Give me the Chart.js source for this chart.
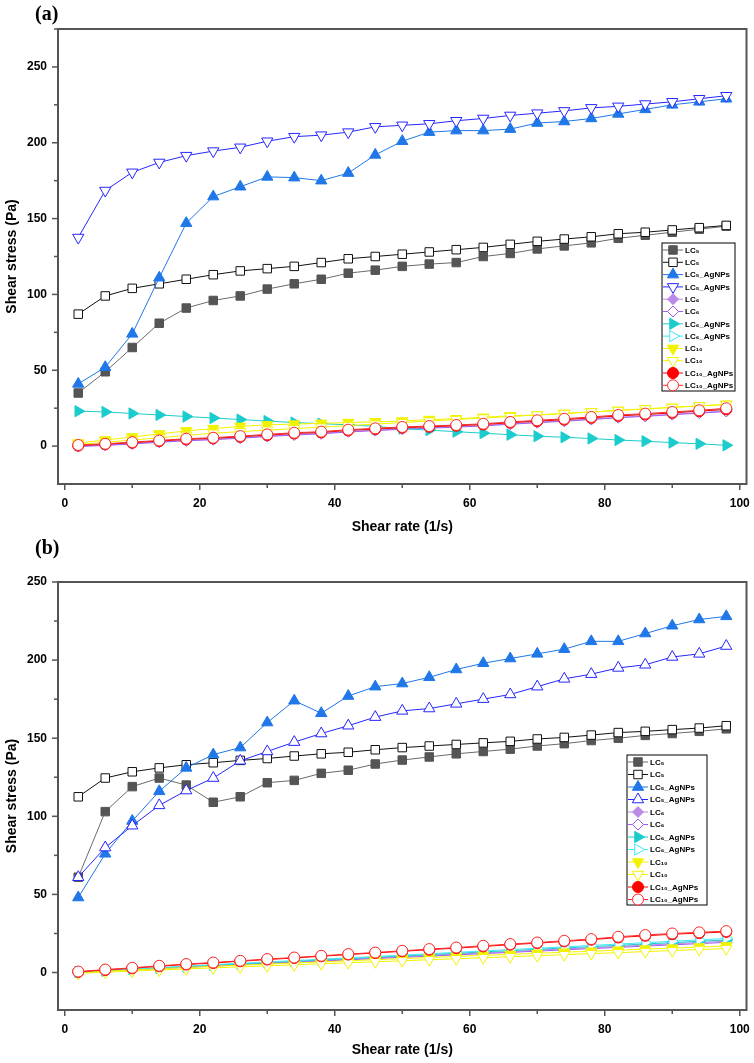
<!DOCTYPE html>
<html>
<head>
<meta charset="utf-8">
<script src="https://cdn.jsdelivr.net/npm/chart.js@4.4.0/dist/chart.umd.min.js"></script>
<style>
    body { margin: 0; background: #fff; width: 754px; height: 1063px; position: relative; overflow: hidden; }
    .panel { position: absolute; left: 0; width: 754px; }
    .tag { position: absolute; left: 35px; font: bold 20px "Liberation Serif", serif; color: #000; z-index: 2; }
</style>
</head>
<body>
<div class="panel" style="top:0;height:540px"><canvas id="chartA"></canvas></div>
<div class="panel" style="top:540px;height:523px"><canvas id="chartB"></canvas></div>
<div class="tag" style="top:2px">(a)</div>
<div class="tag" style="top:536px">(b)</div>
<script>
// === DATA ===
const shearRate = [2, 6, 10, 14, 18, 22, 26, 30, 34, 38, 42, 46, 50, 54, 58, 62, 66, 70, 74, 78, 82, 86, 90, 94, 98];

const xTicks = [0, 20, 40, 60, 80, 100];
const yTicks = [0, 50, 100, 150, 200, 250];

const labels = ['LC₅', 'LC₅', 'LC₅_AgNPs', 'LC₅_AgNPs', 'LC₆', 'LC₆',
                'LC₆_AgNPs', 'LC₆_AgNPs', 'LC₁₀', 'LC₁₀', 'LC₁₀_AgNPs', 'LC₁₀_AgNPs'];

// panel (a)
const a_LC5       = [35, 49, 65, 81, 91, 96, 99, 103.5, 107, 110, 114, 116, 118.5, 120, 121, 125, 127, 130, 132, 134, 137, 139, 141, 143, 145];
const a_LC5o      = [87, 99, 104, 107, 110, 113, 115.5, 117, 118.5, 121, 123.5, 125, 126.5, 128, 129.5, 131, 133, 135, 136.5, 138, 140, 141, 142.5, 144, 145.5];
const a_LC5Ag     = [41, 52, 74, 111, 147, 164.5, 171, 177.5, 177, 175, 180, 192, 201, 207, 208, 208, 209, 213, 214, 216, 219, 222, 225, 227, 229];
const a_LC5Ago    = [137.5, 168.5, 180.5, 187, 191.5, 194.5, 197, 201, 204, 205, 207, 210.5, 211.5, 212.5, 214.5, 216, 218, 219.5, 221, 223, 224, 225.5, 227, 229, 231];
const a_LC6       = [0, 0.7, 1.7, 2.8, 3.8, 4.5, 5.5, 6.6, 7.6, 8.4, 9.6, 10.5, 11.4, 12.1, 12.8, 13.6, 14.7, 15.7, 16.7, 17.8, 19, 19.9, 21, 22, 23.2];
const a_LC6o      = [-0.3, 0.4, 1.4, 2.5, 3.5, 4.2, 5.2, 6.3, 7.3, 8.1, 9.3, 10.2, 11.1, 11.8, 12.5, 13.3, 14.4, 15.4, 16.4, 17.5, 18.7, 19.6, 20.7, 21.7, 22.8];
const a_LC6Ag     = [23, 22.5, 21.5, 20.5, 19.5, 18.5, 17.5, 16.5, 15.5, 14.8, 14, 13, 11.5, 10.5, 9.5, 8.5, 7.5, 6.5, 5.8, 5, 4, 3.2, 2.3, 1.5, 0.5];
const a_LC6Ago    = [0.5, 1.3, 2.4, 3.5, 4.6, 5.3, 6.3, 7.4, 8.5, 9.2, 10.5, 11.4, 12.3, 13, 13.7, 14.5, 15.6, 16.6, 17.7, 18.9, 20.1, 21, 22.1, 23.1, 24.3];
const a_LC10      = [2, 4, 6, 8, 10, 11.5, 13, 14, 14.5, 15, 15.5, 16, 16.5, 17.5, 18, 19, 20, 20.5, 21.5, 22.5, 23.5, 24.5, 25.5, 26.5, 27.5];
const a_LC10o     = [1, 2.5, 4, 5.5, 7, 8.5, 9.5, 10.5, 11.5, 12.5, 13.5, 14.5, 15.5, 16.5, 17.5, 18.5, 19.5, 20.5, 21.5, 22.5, 23.5, 24.5, 25.5, 26.5, 27.5];
const a_LC10Ag    = [0.3, 1.2, 2.2, 3.3, 4.4, 5.1, 6.1, 7.2, 8.3, 9, 10.3, 11.2, 12.1, 12.7, 13.4, 14.2, 15.4, 16.4, 17.4, 18.6, 19.9, 20.8, 21.9, 23, 24.2];
const a_LC10Ago   = [0.7, 1.5, 2.6, 3.7, 4.9, 5.5, 6.6, 7.7, 8.8, 9.5, 10.8, 11.7, 12.6, 13.2, 13.9, 14.7, 15.9, 17, 18, 19.2, 20.5, 21.4, 22.5, 23.6, 24.9];

// panel (b)
const b_LC5       = [61, 103, 119, 124.5, 120, 109, 112.5, 121.5, 123, 127.5, 129.5, 133.5, 136, 138, 140, 141.5, 143, 145, 146.5, 148.5, 150, 151.8, 153, 154.4, 156];
const b_LC5o      = [112.5, 124.5, 128.5, 131, 133, 134.3, 135.8, 137, 138.6, 140, 141, 142.6, 144, 145, 146, 147, 148, 149.5, 150.5, 152, 153.6, 154.4, 155.5, 156.5, 158];
const b_LC5Ag     = [48, 76, 97, 116, 131, 139.5, 144, 160, 174, 166, 177, 183, 185, 189, 194, 198, 201, 204, 207, 212, 212, 217, 222, 226, 228];
const b_LC5Ago    = [61, 80, 94, 107, 116.5, 124.5, 135.5, 141.5, 147.5, 153, 158, 163.5, 167.5, 169, 172, 175, 178, 183, 188, 191, 195, 197, 202, 204, 209];
const b_LC6       = [0.1, 1, 1.8, 2.7, 3.5, 4.4, 5.2, 6, 6.9, 7.7, 8.5, 9.3, 10.2, 11, 11.8, 12.6, 13.4, 14.3, 15.1, 15.9, 16.7, 17.5, 18.4, 19.2, 20];
const b_LC6o      = [0, 0.9, 1.7, 2.5, 3.3, 4.1, 4.9, 5.7, 6.5, 7.3, 8.1, 8.9, 9.7, 10.5, 11.3, 12.1, 12.9, 13.7, 14.5, 15.3, 16.1, 16.9, 17.7, 18.5, 19.3];
const b_LC6Ag     = [0.2, 1.1, 2, 2.9, 3.8, 4.7, 5.5, 6.4, 7.2, 8.1, 8.9, 9.8, 10.6, 11.5, 12.3, 13.2, 14, 14.9, 15.7, 16.6, 17.4, 18.3, 19.1, 20, 20.8];
const b_LC6Ago    = [0.3, 1.3, 2.2, 3.2, 4.1, 5, 5.9, 6.8, 7.6, 8.5, 9.4, 10.2, 11.1, 12, 12.9, 13.8, 14.7, 15.5, 16.4, 17.3, 18.2, 19.1, 20, 20.9, 21.8];
const b_LC10      = [0, 0.8, 1.6, 2.4, 3.2, 4, 4.7, 5.4, 6.1, 6.8, 7.5, 8.2, 8.9, 9.6, 10.3, 11, 11.6, 12.3, 13, 13.6, 14.3, 15, 15.6, 16.3, 17];
const b_LC10o     = [-0.5, 0.2, 0.9, 1.6, 2.3, 3, 3.6, 4.3, 4.9, 5.6, 6.2, 6.9, 7.5, 8.2, 8.8, 9.5, 10.1, 10.8, 11.4, 12.1, 12.7, 13.4, 14, 14.7, 15.3];
const b_LC10Ag    = [0.4, 1.6, 2.7, 4, 5.1, 6.1, 7.2, 8.3, 9.3, 10.4, 11.5, 12.5, 13.6, 14.6, 15.6, 16.7, 17.8, 18.8, 19.9, 21, 22.4, 23.5, 24.5, 25.2, 26];
const b_LC10Ago   = [0.6, 1.9, 3, 4.3, 5.4, 6.4, 7.5, 8.6, 9.6, 10.7, 11.8, 12.8, 13.9, 15, 16, 17.1, 18.2, 19.2, 20.3, 21.4, 22.9, 24, 25, 25.7, 26.5];

// === STYLES (one per series, same order as labels) ===
// [color, filled, pointStyle, rotation, radius]
const styles = [
    ['#555555', true,  'rect',     0,   6],
    ['#111111', false, 'rect',     0,   6],
    ['#1f77e8', true,  'triangle', 0,   6.5],
    ['#2626ff', false, 'triangle', 180, 6.5],
    ['#b98ae6', true,  'rectRot',  0,   5.5],
    ['#a25cf2', false, 'rectRot',  0,   5.5],
    ['#1ccccc', true,  'triangle', 90,  6.5],
    ['#3fe6f5', false, 'triangle', 90,  6.5],
    ['#f2f200', true,  'triangle', 180, 6.5],
    ['#f2f200', false, 'triangle', 180, 6.5],
    ['#ff0000', true,  'circle',   0,   5.5],
    ['#ff2a2a', false, 'circle',   0,   5.5],
];

function makeDatasets(series, rotations) {
    return series.map((vals, i) => {
        const [color, filled, shape, rot, r] = styles[i];
        const rotation = rotations && rotations[i] !== undefined ? rotations[i] : rot;
        return {
            label: labels[i],
            data: shearRate.map((x, k) => ({ x: x, y: vals[k] })),
            showLine: true,
            borderColor: i === 0 ? '#6a6a6a' : color,
            borderWidth: 1,
            pointStyle: shape,
            pointRotation: rotation,
            pointRadius: r,
            pointBorderWidth: 1,
            pointBorderColor: color,
            pointBackgroundColor: filled ? color : '#ffffff',
            order: series.length - i,
        };
    });
}

// === FRAME, TICKS, LEGEND ===
const frameAndLegend = {
    id: 'frameAndLegend',
    afterDraw(chart, args, opts) {
        const ctx = chart.ctx;
        const { left, right, top, bottom } = chart.chartArea;
        const xs = chart.scales.x, ys = chart.scales.y;
        ctx.save();
        ctx.strokeStyle = '#555';
        ctx.lineWidth = 1.5;
        xs.ticks.forEach(t => {
            const px = xs.getPixelForValue(t.value);
            const len = t.value % 20 === 0 ? 6 : 4;
            ctx.beginPath(); ctx.moveTo(px, bottom); ctx.lineTo(px, bottom + len); ctx.stroke();
        });
        ys.ticks.forEach(t => {
            if (t.value < 0) return;
            const py = ys.getPixelForValue(t.value);
            const len = t.value % 50 === 0 ? 6 : 4;
            ctx.beginPath(); ctx.moveTo(left, py); ctx.lineTo(left - len, py); ctx.stroke();
        });
        ctx.lineWidth = 2;
        ctx.strokeRect(left, top, right - left, bottom - top);

        // legend box
        ctx.fillStyle = '#fff';
        ctx.fillRect(opts.x, opts.y, opts.w, opts.h);
        ctx.strokeStyle = '#000';
        ctx.lineWidth = 1;
        ctx.strokeRect(opts.x, opts.y, opts.w, opts.h);
        ctx.font = 'bold 8px "Liberation Sans", Arial, sans-serif';
        ctx.textBaseline = 'middle';
        chart.data.datasets.forEach((ds, i) => {
            const cy = opts.y + opts.pad + i * opts.row;
            const mx = opts.x + 11;
            ctx.strokeStyle = ds.borderColor;
            ctx.lineWidth = 1;
            ctx.beginPath(); ctx.moveTo(opts.x + 1, cy); ctx.lineTo(opts.x + 21, cy); ctx.stroke();
            ctx.fillStyle = ds.pointBackgroundColor;
            ctx.strokeStyle = ds.pointBorderColor;
            Chart.helpers.drawPoint(ctx, {
                pointStyle: ds.pointStyle, radius: ds.pointRadius,
                rotation: ds.pointRotation, borderWidth: 1
            }, mx, cy);
            ctx.fillStyle = '#000';
            ctx.fillText(ds.label, opts.x + 23, cy + 0.5);
        });
        ctx.restore();
    }
};

function makeChart(id, datasets, yMin, yMax, pad, xHeight, legend) {
    const tickFont = { family: '"Liberation Sans", Arial, sans-serif', size: 12, weight: 'bold' };
    const titleFont = { family: '"Liberation Sans", Arial, sans-serif', size: 14, weight: 'bold' };
    return new Chart(document.getElementById(id), {
        type: 'scatter',
        data: { datasets },
        plugins: [frameAndLegend],
        options: {
            responsive: true, maintainAspectRatio: false, animation: false,
            layout: { padding: { top: pad, right: 7, left: 0, bottom: 0 } },
            plugins: {
                legend: { display: false },
                tooltip: { enabled: false },
                frameAndLegend: legend
            },
            scales: {
                x: {
                    type: 'linear', min: -1, max: 101,
                    afterFit: s => { s.height = xHeight; s.paddingLeft = 0; s.paddingRight = 0; },
                    grid: { display: false, drawTicks: false },
                    border: { display: false },
                    ticks: {
                        stepSize: 10, includeBounds: false, autoSkip: false, maxRotation: 0,
                        color: '#000', font: tickFont, padding: 12,
                        callback: v => xTicks.includes(v) ? v : ''
                    },
                    title: { display: true, text: 'Shear rate (1/s)', color: '#000', font: titleFont, padding: { top: 4, bottom: 4 } }
                },
                y: {
                    type: 'linear', min: yMin, max: yMax,
                    afterFit: s => { s.width = 58; s.paddingTop = 0; s.paddingBottom = 0; },
                    grid: { display: false, drawTicks: false },
                    border: { display: false },
                    ticks: {
                        stepSize: 25, includeBounds: false, autoSkip: false,
                        color: '#000', font: tickFont, padding: 11,
                        callback: v => yTicks.includes(v) ? v : ''
                    },
                    title: { display: true, text: 'Shear stress (Pa)', color: '#000', font: titleFont, padding: { top: 4, bottom: 4 } }
                }
            }
        }
    });
}

// === CHART (a) ===
makeChart('chartA',
    makeDatasets([a_LC5, a_LC5o, a_LC5Ag, a_LC5Ago, a_LC6, a_LC6o, a_LC6Ag, a_LC6Ago, a_LC10, a_LC10o, a_LC10Ag, a_LC10Ago]),
    -25, 275, 29, 56,
    { x: 662, y: 243, w: 73, h: 148, row: 12.3, pad: 7 });

// === CHART (b) ===  open LC5_AgNPs points up here
makeChart('chartB',
    makeDatasets([b_LC5, b_LC5o, b_LC5Ag, b_LC5Ago, b_LC6, b_LC6o, b_LC6Ag, b_LC6Ago, b_LC10, b_LC10o, b_LC10Ag, b_LC10Ago], { 3: 0 }),
    -24, 250, 42, 53,
    { x: 627, y: 215, w: 80, h: 150, row: 12.5, pad: 7 });
</script>
</body>
</html>
